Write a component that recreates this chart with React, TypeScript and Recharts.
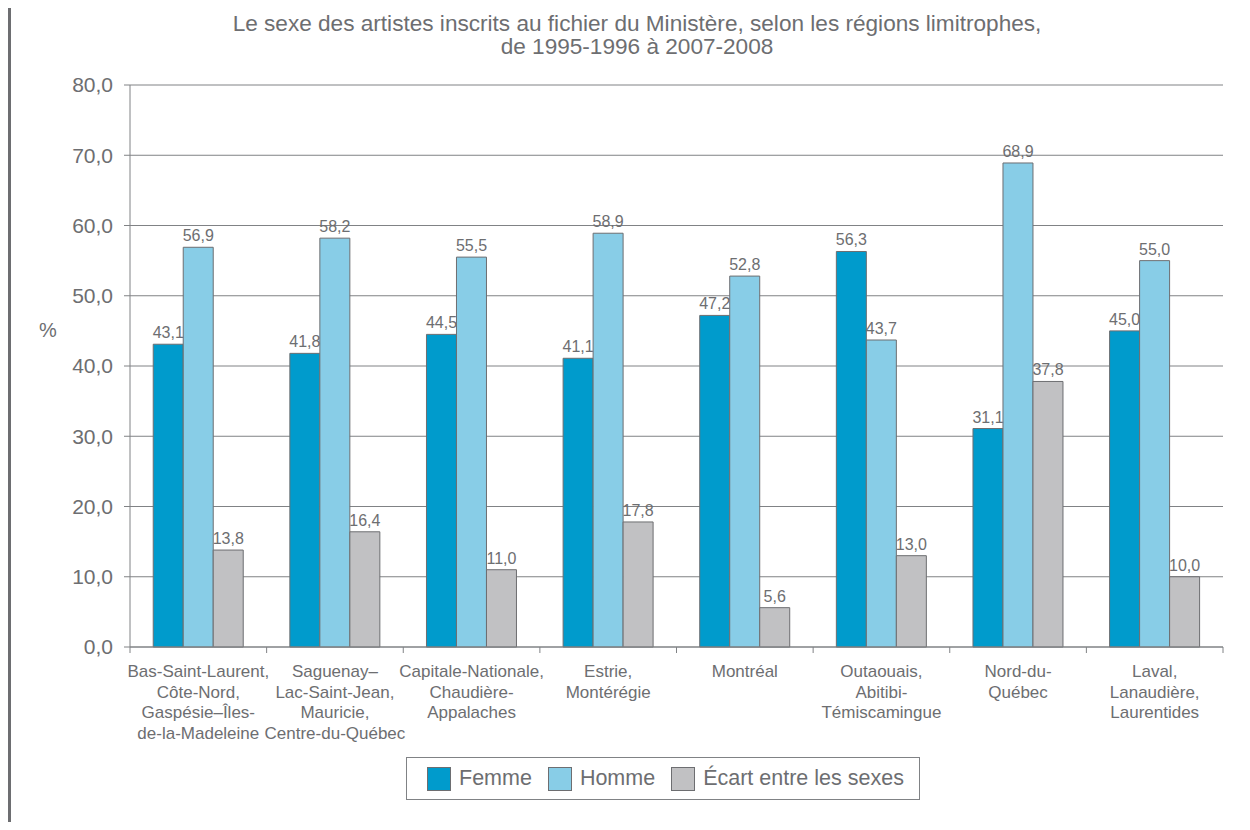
import { BarChart, Bar, XAxis, YAxis, CartesianGrid, LabelList } from 'recharts'

const regions = [
  'Bas-Saint-Laurent,|Côte-Nord,|Gaspésie–Îles-|de-la-Madeleine',
  'Saguenay–|Lac-Saint-Jean,|Mauricie,|Centre-du-Québec',
  'Capitale-Nationale,|Chaudière-|Appalaches',
  'Estrie,|Montérégie',
  'Montréal',
  'Outaouais,|Abitibi-|Témiscamingue',
  'Nord-du-|Québec',
  'Laval,|Lanaudière,|Laurentides',
]
const femme = [43.1, 41.8, 44.5, 41.1, 47.2, 56.3, 31.1, 45.0]
const homme = [56.9, 58.2, 55.5, 58.9, 52.8, 43.7, 68.9, 55.0]
const ecart = [13.8, 16.4, 11.0, 17.8, 5.6, 13.0, 37.8, 10.0]
const yTicks = [0, 10, 20, 30, 40, 50, 60, 70, 80]

const TEXT = '#6d6e71'
const LINE = '#808285'
const FONT = '"Liberation Sans", Arial, sans-serif'

const series = [
  { key: 'femme', name: 'Femme', color: '#009bcc' },
  { key: 'homme', name: 'Homme', color: '#88cde7' },
  { key: 'ecart', name: 'Écart entre les sexes', color: '#c1c1c3' },
]

const fmt = (v: number) => v.toFixed(1).replace('.', ',')

function CategoryTick(props: any) {
  const { x, y, payload, index, visibleTicksCount } = props
  const half = payload.offset || 0
  const lines = String(payload.value).split('|')
  return (
    <g>
      <line x1={x - half} x2={x - half} y1={y - 8} y2={y - 2} stroke={LINE} />
      {index === visibleTicksCount - 1 && (
        <line x1={x + half} x2={x + half} y1={y - 8} y2={y - 2} stroke={LINE} />
      )}
      <text x={x} y={y + 22} textAnchor="middle" fill={TEXT} fontSize={17} fontFamily={FONT}>
        {lines.map((l, i) => (
          <tspan key={i} x={x} dy={i === 0 ? 0 : 20.5}>{l}</tspan>
        ))}
      </text>
    </g>
  )
}

export default function App() {
  const data = regions.map((r, i) => ({ region: r, femme: femme[i], homme: homme[i], ecart: ecart[i] }))

  return (
    <div style={{ position: 'relative', margin: -8, width: 1250, height: 830, background: '#fff', fontFamily: FONT, overflow: 'hidden' }}>
      <div style={{ position: 'absolute', left: 8, top: 0, width: 3, height: 830, background: TEXT }} />
      <div style={{ position: 'absolute', left: 8, top: 0, width: 103, height: 5, background: TEXT }} />
      <div style={{ position: 'absolute', left: 0, top: 12, width: 1274, textAlign: 'center', color: TEXT, fontSize: 22.6, lineHeight: '23px' }}>
        Le sexe des artistes inscrits au fichier du Ministère, selon les régions limitrophes,
        <br />
        de 1995-1996 à 2007-2008
      </div>
      <div style={{ position: 'absolute', left: 39, top: 319, color: TEXT, fontSize: 20, lineHeight: '23px' }}>%</div>

      <BarChart
        width={1250}
        height={830}
        data={data}
        margin={{ top: 85, right: 27, bottom: 83, left: 0 }}
        barCategoryGap="17%"
        barGap={0}
        style={{ position: 'absolute', left: 0, top: 0 }}
      >
        <CartesianGrid vertical={false} stroke={LINE} strokeWidth={1} />
        <XAxis
          dataKey="region"
          height={100}
          interval={0}
          tickLine={false}
          axisLine={{ stroke: LINE }}
          tick={<CategoryTick />}
        />
        <YAxis
          domain={[0, 80]}
          ticks={yTicks}
          width={130}
          tickFormatter={fmt}
          tickSize={6}
          tickMargin={11}
          tickLine={{ stroke: LINE }}
          axisLine={{ stroke: LINE }}
          tick={{ fill: TEXT, fontSize: 21, fontFamily: FONT }}
        />
        <YAxis yAxisId="border" orientation="right" width={0} tick={false} tickLine={false} axisLine={{ stroke: LINE }} />
        {series.map((s) => (
          <Bar key={s.key} dataKey={s.key} name={s.name} fill={s.color} stroke={TEXT} strokeWidth={1} isAnimationActive={false}>
            <LabelList dataKey={s.key} position="top" offset={6} formatter={(v: any) => fmt(Number(v))} fill={TEXT} fontSize={16} fontFamily={FONT} />
          </Bar>
        ))}
      </BarChart>

      <div
        style={{
          position: 'absolute', left: 406, top: 757, width: 514, height: 43, boxSizing: 'border-box',
          border: `1px solid ${LINE}`, display: 'flex', alignItems: 'center', paddingLeft: 20, whiteSpace: 'nowrap',
        }}
      >
        {series.map((s) => (
          <div key={s.key} style={{ display: 'flex', alignItems: 'center', marginRight: 16, flexShrink: 0 }}>
            <span style={{ width: 24, height: 24, boxSizing: 'border-box', background: s.color, border: `1px solid ${TEXT}`, marginRight: 8 }} />
            <span style={{ color: TEXT, fontSize: 21.5 }}>{s.name}</span>
          </div>
        ))}
      </div>
    </div>
  )
}
